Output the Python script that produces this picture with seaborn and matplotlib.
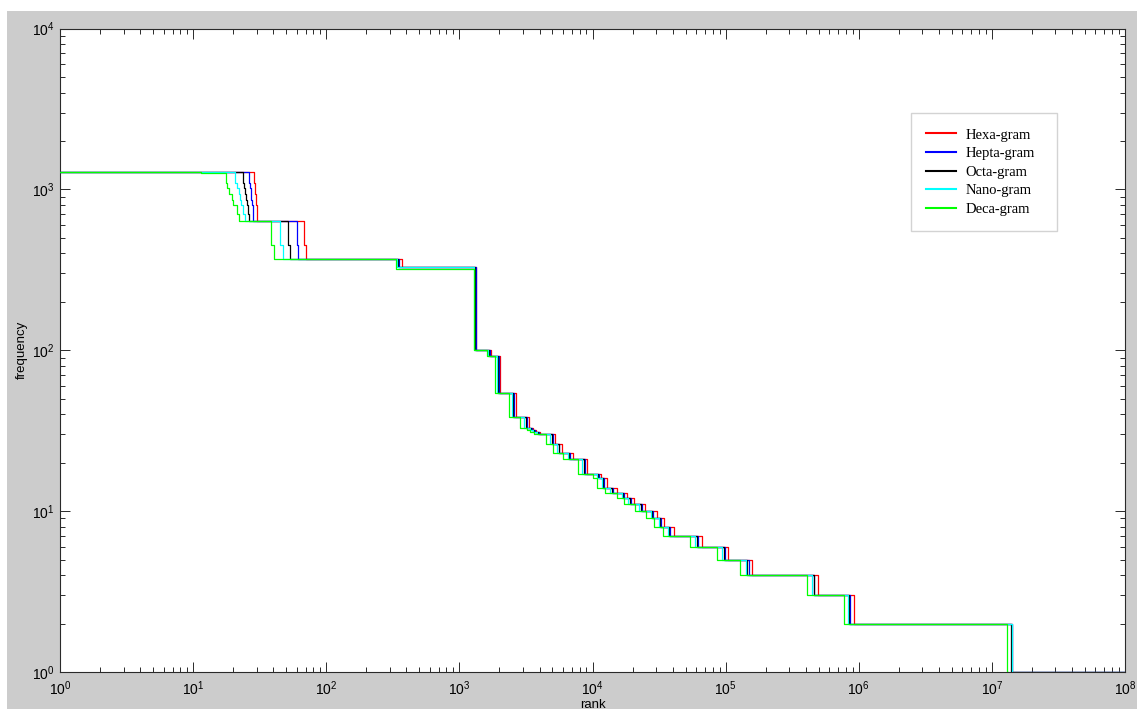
import numpy as np
import pandas as pd
import matplotlib
matplotlib.use("Agg")
import matplotlib.pyplot as plt
from matplotlib.patches import Rectangle
from matplotlib.ticker import LogLocator, LogFormatterSciNotation, NullFormatter
import seaborn as sns

# ---------------- data ----------------
series_names = ["Hexa-gram", "Hepta-gram", "Octa-gram", "Nano-gram", "Deca-gram"]
series_colors = ["#ff0000", "#0000ff", "#000000", "#00ffff", "#00ff00"]

# frequency of each step (same order for every series)
freq_levels = [1290, 1266, 1100, 1020, 930, 860, 800, 700, 640, 450, 371, 330,
               100, 92, 54, 38.5, 33, 32, 31, 30, 26, 23, 21, 17, 16,
               14, 13, 12, 11, 10, 9, 8, 7, 6, 5, 4, 3, 2, 1]
freq_levels_deca = [1290, 1266, 1100, 1020, 930, 860, 800, 700, 640, 450, 371, 321,
                    100, 92, 54, 38.5, 33, 32, 31, 30, 26, 23, 21, 17, 16,
                    14, 13, 12, 11, 10, 9, 8, 7, 6, 5, 4, 3, 2, 1]

# last rank at which each frequency level holds
rank_end_hexa = [28.75, 28.75, 29.1, 29.4, 29.6, 29.8, 30.0, 30.3, 68.3, 70.1, 373, 1342,
                 1740, 2034, 2669, 3360, 3601, 3793, 4064, 5270, 5918, 7159, 9126, 11628, 12896,
                 15154, 18237, 20341, 24730, 30282, 34599, 40644, 65993, 104780, 158800,
                 494300, 921900, 1.407e7, 1e8]
rank_end_hepta = [26.37, 26.37, 26.83, 27.15, 27.44, 27.77, 28.02, 28.26, 60.5, 61.1, 354, 1331,
                  1696, 1982, 2591, 3206, 3491, 3678, 3940, 5022, 5648, 6808, 8709, 11169, 12245,
                  14313, 17311, 19337, 23473, 28708, 32783, 38532, 62101, 98605, 148890,
                  464430, 866170, 1.41e7, 1e8]
rank_end_octa = [23.76, 23.76, 24.18, 24.60, 25.03, 25.47, 25.91, 26.50, 51.8, 53.6, 348, 1319,
                 1681, 1965, 2547, 3157, 3455, 3640, 3899, 4942, 5560, 6694, 8573, 11020, 12035,
                 14041, 17014, 19014, 23072, 28192, 32199, 37844, 60857, 96627, 145740,
                 458900, 851300, 1.40e7, 1e8]
rank_end_nano = [20.69, 20.69, 21.32, 22.29, 22.56, 22.96, 23.89, 24.60, 45.1, 47.5, 342, 1297,
                 1652, 1931, 2502, 3084, 3401, 3583, 3840, 4825, 5433, 6528, 8375, 10804, 11728,
                 13646, 16577, 18543, 22473, 27449, 31342, 36857, 59047, 93739, 141100,
                 448650, 836700, 1.407e7, 1e8]
rank_end_deca = [11.48, 17.71, 18.02, 18.75, 19.54, 20.09, 21.32, 22.18, 38.6, 40.6, 336, 1281,
                 1624, 1866, 2376, 2875, 3246, 3418, 3664, 4486, 5064, 6053, 7808, 10174, 10846,
                 12521, 15336, 17190, 20797, 25336, 28899, 34013, 53897, 85567, 128100,
                 411500, 775300, 1.29e7, 1.32e7]

x_tick_values = [1e0, 1e1, 1e2, 1e3, 1e4, 1e5, 1e6, 1e7, 1e8]
y_tick_values = [1e0, 1e1, 1e2, 1e3, 1e4]

series_ends = [rank_end_hexa, rank_end_hepta, rank_end_octa, rank_end_nano, rank_end_deca]
series_levels = [freq_levels, freq_levels, freq_levels, freq_levels, freq_levels_deca]

rows = []
for name, ends, levels in zip(series_names, series_ends, series_levels):
    ranks = [1.0] + list(ends)
    freqs = list(levels) + [levels[-1]]
    for r, f in zip(ranks, freqs):
        rows.append((name, r, f))
df = pd.DataFrame(rows, columns=["series", "rank", "frequency"])

# ---------------- figure ----------------
plt.rcParams["font.family"] = ["Liberation Sans", "DejaVu Sans"]

W, H = 1137, 709
fig = plt.figure(figsize=(W / 100, H / 100), dpi=100, facecolor="white")
fig.patches.append(Rectangle((7 / W, 0), 1 - 7 / W, (H - 11) / H,
                             transform=fig.transFigure, facecolor="#cccccc",
                             edgecolor="none", zorder=-10))

ax_l, ax_r, ax_t, ax_b = 60, 1125, 28.5, 672
ax = fig.add_axes([ax_l / W, (H - ax_b) / H, (ax_r - ax_l) / W, (ax_b - ax_t) / H])
ax.set_facecolor("white")
ax.set_xscale("log")
ax.set_yscale("log")

sns.lineplot(data=df, x="rank", y="frequency", hue="series", hue_order=series_names,
             palette=dict(zip(series_names, series_colors)), estimator=None, sort=False,
             drawstyle="steps-post", linewidth=0.9, ax=ax, legend=True)

ax.set_xlim(x_tick_values[0], x_tick_values[-1])
ax.set_ylim(y_tick_values[0], y_tick_values[-1])

ax.xaxis.set_major_locator(LogLocator(base=10, numticks=20))
ax.yaxis.set_major_locator(LogLocator(base=10, numticks=20))
ax.xaxis.set_minor_locator(LogLocator(base=10, subs=np.arange(2, 10), numticks=100))
ax.yaxis.set_minor_locator(LogLocator(base=10, subs=np.arange(2, 10), numticks=100))
ax.xaxis.set_major_formatter(LogFormatterSciNotation())
ax.yaxis.set_major_formatter(LogFormatterSciNotation())
ax.xaxis.set_minor_formatter(NullFormatter())
ax.yaxis.set_minor_formatter(NullFormatter())

spine_col = "#2a2a2a"
for s in ax.spines.values():
    s.set_color(spine_col)
    s.set_linewidth(0.8)
    s.set_zorder(1.5)
ax.tick_params(which="both", direction="in", top=True, right=True, color=spine_col,
               width=0.7, labelsize=10, labelcolor="black")
ax.tick_params(which="major", length=7.5)
ax.tick_params(which="minor", length=3.8)
ax.tick_params(axis="x", which="major", pad=5)
ax.tick_params(axis="y", which="major", pad=4)

ax.set_xlabel("rank", fontsize=9.5)
ax.set_ylabel("frequency", fontsize=9.5)
ax.xaxis.set_label_coords(0.5, (ax_b - 699) / (ax_b - ax_t))
ax.yaxis.set_label_coords((28 - ax_l) / (ax_r - ax_l), 0.5)

handles, labels = ax.get_legend_handles_labels()
for h in handles:
    h.set_linewidth(1.5)
leg = ax.legend(handles, labels, loc="upper left",
                bbox_to_anchor=((911 - ax_l) / (ax_r - ax_l), (ax_b - 113) / (ax_b - ax_t),
                                (1057 - 911) / (ax_r - ax_l), 0.0),
                mode="expand", frameon=True, fancybox=False, shadow=False,
                prop={"family": ["Liberation Serif", "DejaVu Serif"], "size": 10.5},
                handlelength=2.05, handletextpad=0.64, labelspacing=0.37,
                borderpad=1.05, borderaxespad=0.0)
leg.get_frame().set_edgecolor("#c8c8c8")
leg.get_frame().set_linewidth(1.0)
leg.get_frame().set_facecolor("white")

fig.savefig("out.png", dpi=100, facecolor=fig.get_facecolor())
